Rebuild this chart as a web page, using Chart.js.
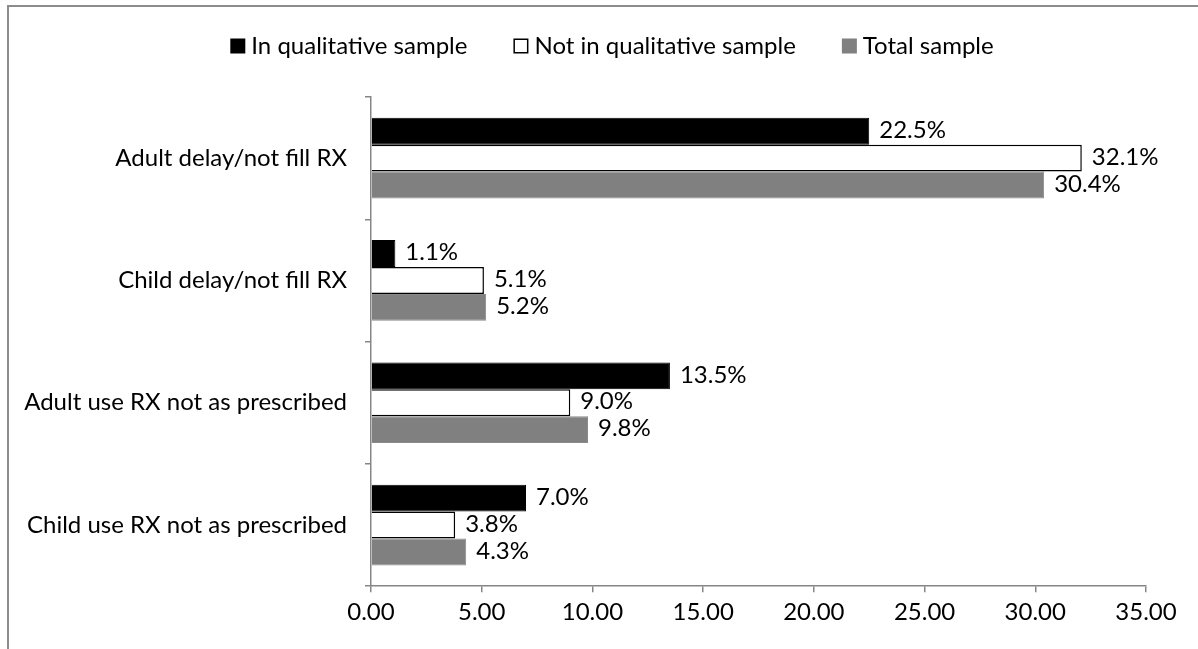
<!DOCTYPE html>
<html>
<head>
<meta charset="utf-8">
<script src="https://cdn.jsdelivr.net/npm/chart.js@4.4.1/dist/chart.umd.min.js"></script>
<style>
  html, body { margin: 0; padding: 0; background: #fff; }
  #wrap { position: relative; width: 1198px; height: 649px; overflow: hidden; }
  #frame { position: absolute; left: 7px; top: 5px; width: 1300px; height: 800px; border: 2px solid #8c8c8c; box-sizing: border-box; }
  canvas { position: absolute; left: 0; top: 0; }
</style>
</head>
<body>
<div id="wrap">
  <div id="frame"></div>
  <canvas id="c" width="1198" height="649"></canvas>
</div>
<script>
const categories = [
  "Adult delay/not fill RX",
  "Child delay/not fill RX",
  "Adult use RX not as prescribed",
  "Child use RX not as prescribed"
];
const seriesNames = ["In qualitative sample", "Not in qualitative sample", "Total sample"];
const inQualitative = [22.5, 1.1, 13.5, 7.0];
const notInQualitative = [32.1, 5.1, 9.0, 3.8];
const totalSample = [30.4, 5.2, 9.8, 4.3];
const xTicks = [0, 5, 10, 15, 20, 25, 30, 35];

const FONT = 'Lato, "Open Sans", "Noto Sans", sans-serif';
const FS = 24;
const AXIS = '#868686';

const labelPlugin = {
  id: 'barLabels',
  afterDatasetsDraw(chart) {
    const ctx = chart.ctx;
    ctx.save();
    ctx.font = FS + 'px ' + FONT;
    ctx.fillStyle = '#000';
    ctx.textBaseline = 'middle';
    ctx.textAlign = 'left';
    chart.data.datasets.forEach((ds, di) => {
      const meta = chart.getDatasetMeta(di);
      meta.data.forEach((bar, i) => {
        ctx.fillText(ds.data[i].toFixed(1) + '%', bar.x + 10, bar.y - 1);
      });
    });
    ctx.restore();
  }
};

const legendPlugin = {
  id: 'customLegend',
  afterDraw(chart) {
    const ctx = chart.ctx;
    ctx.save();
    ctx.font = FS + 'px ' + FONT;
    ctx.textBaseline = 'middle';
    ctx.textAlign = 'left';
    const box = 15, gapBoxText = 6, gapItems = 46, cy = 46, center = 612;
    const items = chart.data.datasets.map(ds => ({ ds, w: ctx.measureText(ds.label).width }));
    const total = items.reduce((s, it) => s + box + gapBoxText + it.w, 0) + gapItems * (items.length - 1);
    let x = center - total / 2;
    items.forEach(it => {
      ctx.fillStyle = it.ds.backgroundColor;
      ctx.fillRect(x, cy - box / 2, box, box);
      if (it.ds.backgroundColor === '#ffffff') {
        ctx.strokeStyle = '#000';
        ctx.lineWidth = 1.5;
        ctx.strokeRect(x + 0.75, cy - box / 2 + 0.75, box - 1.5, box - 1.5);
      }
      ctx.fillStyle = '#000';
      ctx.fillText(it.ds.label, x + box + gapBoxText, cy);
      x += box + gapBoxText + it.w + gapItems;
    });
    ctx.restore();
  }
};

new Chart(document.getElementById('c'), {
  type: 'bar',
  data: {
    labels: categories,
    datasets: [
      { label: seriesNames[0], data: inQualitative, backgroundColor: '#000000', borderColor: '#000000', borderWidth: 1 },
      { label: seriesNames[1], data: notInQualitative, backgroundColor: '#ffffff', borderColor: '#000000', borderWidth: 1.5 },
      { label: seriesNames[2], data: totalSample, backgroundColor: '#808080', borderColor: '#8a8a8a', borderWidth: 1 }
    ]
  },
  options: {
    indexAxis: 'y',
    responsive: false,
    animation: false,
    devicePixelRatio: 1,
    categoryPercentage: 0.66,
    barPercentage: 1.0,
    layout: { padding: { left: 10, right: 52, top: 97, bottom: 16 } },
    plugins: {
      legend: { display: false },
      tooltip: { enabled: false }
    },
    scales: {
      x: {
        min: 0,
        max: 35,
        afterBuildTicks(scale) { scale.ticks = xTicks.map(v => ({ value: v })); },
        ticks: {
          font: { size: FS, family: FONT },
          color: '#000',
          padding: 6,
          maxRotation: 0,
          callback: v => Number(v).toFixed(2)
        },
        grid: { drawOnChartArea: false, drawTicks: true, tickLength: 6, color: AXIS, lineWidth: 1.5 },
        border: { color: AXIS, width: 1.5 }
      },
      y: {
        afterFit(scale) { scale.width = 361; },
        ticks: {
          font: { size: FS, family: FONT },
          color: '#000',
          padding: 18
        },
        grid: { drawOnChartArea: false, drawTicks: true, tickLength: 6, color: AXIS, lineWidth: 1.5, offset: true },
        border: { color: AXIS, width: 1.5 }
      }
    }
  },
  plugins: [labelPlugin, legendPlugin]
});
</script>
</body>
</html>
